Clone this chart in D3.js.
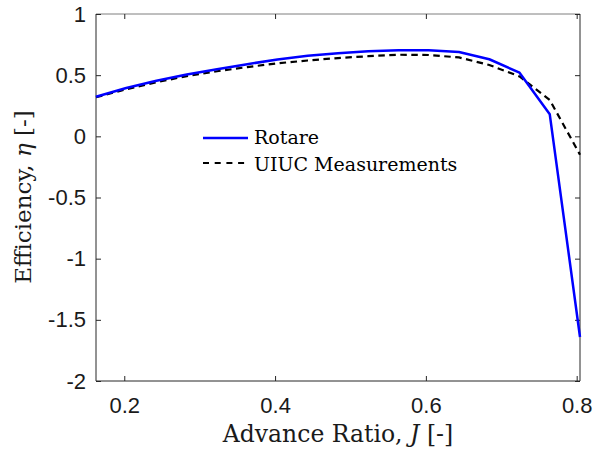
<!DOCTYPE html>
<html>
<head>
<meta charset="utf-8">
<script src="https://cdn.jsdelivr.net/npm/d3@7"></script>
<style>
  html, body { margin: 0; padding: 0; background: #fff; }
  svg { display: block; }
</style>
</head>
<body>
<svg id="chart" width="593" height="452"></svg>
<script>
// Advance ratio grid shared by both series
const advanceRatio = [0.1625, 0.2026, 0.2427, 0.2829, 0.3230, 0.3631, 0.4032, 0.4433, 0.4835,
                      0.5236, 0.5637, 0.6038, 0.6439, 0.6841, 0.7242, 0.7643, 0.8044];
// Propeller efficiency predicted by Rotare
const rotareEta = [0.324, 0.395, 0.455, 0.505, 0.548, 0.590, 0.628, 0.658, 0.680,
                   0.695, 0.703, 0.703, 0.689, 0.630, 0.520, 0.180, -1.640];
// Wind-tunnel efficiency from UIUC
const uiucEta = [0.319, 0.385, 0.443, 0.492, 0.532, 0.566, 0.597, 0.620, 0.640,
                 0.655, 0.667, 0.665, 0.645, 0.583, 0.490, 0.297, -0.150];
const xTicks = [0.2, 0.4, 0.6, 0.8];
const yTicks = [1, 0.5, 0, -0.5, -1, -1.5, -2];
const seriesNames = ["Rotare", "UIUC Measurements"];

const svg = d3.select("#chart");
const plotL = 96, plotR = 580, plotT = 14, plotB = 381;
const axisColor = "#262626";
const sans = "'Liberation Sans', Arial, Helvetica, sans-serif";
const serif = "'DejaVu Serif', 'Liberation Serif', serif";
const fmt = d => String(d);

const x = d3.scaleLinear().domain([d3.min(advanceRatio), d3.max(advanceRatio)]).range([plotL, plotR]);
const y = d3.scaleLinear().domain([-2, 1]).range([plotB, plotT]);

// Axes with inward ticks on all four sides
const gx = svg.append("g").attr("transform", `translate(0,${plotB})`)
  .call(d3.axisBottom(x).tickValues(xTicks).tickSize(-5).tickPadding(16).tickFormat(fmt));
const gxt = svg.append("g").attr("transform", `translate(0,${plotT})`)
  .call(d3.axisTop(x).tickValues(xTicks).tickSize(-5).tickFormat(""));
const gy = svg.append("g").attr("transform", `translate(${plotL},0)`)
  .call(d3.axisLeft(y).tickValues(yTicks).tickSize(-5).tickPadding(10).tickFormat(fmt));
const gyr = svg.append("g").attr("transform", `translate(${plotR},0)`)
  .call(d3.axisRight(y).tickValues(yTicks).tickSize(-5).tickFormat(""));

[gx, gxt, gy, gyr].forEach(g => {
  g.selectAll(".domain").attr("stroke", axisColor).attr("stroke-width", 1);
  g.selectAll(".tick line").attr("stroke", axisColor).attr("stroke-width", 1);
  g.selectAll(".tick text").attr("fill", "#1a1a1a").style("font-family", sans).style("font-size", "22px");
});
gx.selectAll(".domain").attr("d", `M${plotL},0H${plotR}`);
gxt.selectAll(".domain").attr("d", `M${plotL},0H${plotR}`).attr("stroke", "#7f7f7f");
gy.selectAll(".domain").attr("d", `M0,${plotT}V${plotB}`);
gyr.selectAll(".domain").attr("d", `M0,${plotT}V${plotB}`);

// Series lines
const line = vals => d3.line().x((d, i) => x(advanceRatio[i])).y(d => y(d))(vals);

svg.append("path").attr("d", line(uiucEta)).attr("fill", "none")
  .attr("stroke", "#000").attr("stroke-width", 2.2).attr("stroke-dasharray", "6.5,4.5");
svg.append("path").attr("d", line(rotareEta)).attr("fill", "none")
  .attr("stroke", "#0000ff").attr("stroke-width", 2.5).attr("stroke-linejoin", "round");

// Legend
const legend = svg.append("g");
const legRows = [
  { name: seriesNames[0], color: "#0000ff", dash: null, w: 2.5, ly: 138, ty: 144 },
  { name: seriesNames[1], color: "#000", dash: "6,5.7", w: 2.2, ly: 163, ty: 171 }
];
legRows.forEach(r => {
  legend.append("line").attr("x1", 203).attr("x2", 248).attr("y1", r.ly).attr("y2", r.ly)
    .attr("stroke", r.color).attr("stroke-width", r.w).attr("stroke-dasharray", r.dash);
  legend.append("text").attr("x", 254).attr("y", r.ty).text(r.name)
    .style("font-family", serif).style("font-size", "19px").attr("fill", "#000");
});

// Axis titles
const xl = svg.append("text").attr("x", 338).attr("y", 442).attr("text-anchor", "middle")
  .style("font-family", serif).style("font-size", "23.5px").attr("fill", "#1a1a1a");
xl.append("tspan").text("Advance Ratio, ");
xl.append("tspan").text("J").style("font-style", "italic");
xl.append("tspan").text(" [-]");

const yl = svg.append("text").attr("transform", "translate(31,197) rotate(-90)").attr("text-anchor", "middle")
  .style("font-family", serif).style("font-size", "23px").attr("fill", "#1a1a1a");
yl.append("tspan").text("Efficiency, ");
yl.append("tspan").text("η").style("font-style", "italic");
yl.append("tspan").text(" [-]");
</script>
</body>
</html>
